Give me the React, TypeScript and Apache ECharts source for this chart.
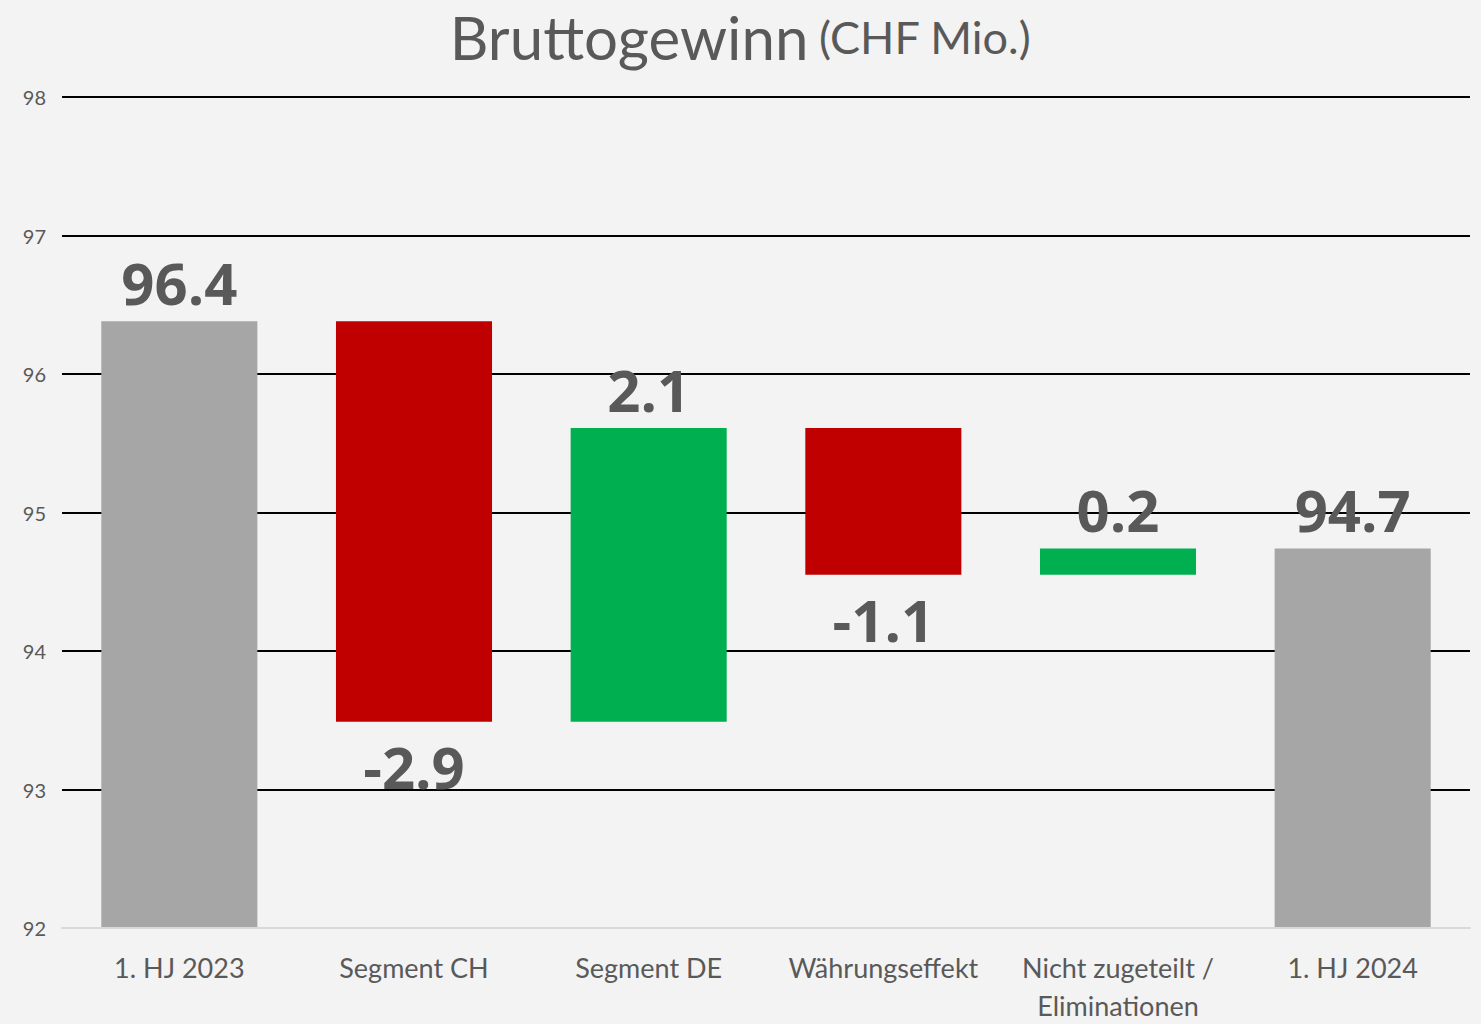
import React, { useEffect, useRef } from "react";
import * as echarts from "echarts";

const categories = ["1. HJ 2023", "Segment CH", "Segment DE", "Währungseffekt", "Nicht zugeteilt /\nEliminationen", "1. HJ 2024"];
const startTotal = 96.38;
const deltas = [-2.89, 2.12, -1.06, 0.19];
const endTotal = 94.74;
const labelTexts = ["96.4", "-2.9", "2.1", "-1.1", "0.2", "94.7"];
const yTicks = [92, 93, 94, 95, 96, 97, 98];

const GRAY = "#a6a6a6";
const RED = "#c00000";
const GREEN = "#00b050";
const TEXT = "#595959";

export default function App() {
  const ref = useRef<HTMLDivElement>(null);
  useEffect(() => {
    if (!ref.current) return;
    const chart = echarts.init(ref.current, undefined, { renderer: "svg" });

    const base: number[] = [];
    const vis: any[] = [];
    base.push(0);
    vis.push({ value: startTotal, itemStyle: { color: GRAY }, label: { position: "top", distance: 10 } });
    let level = startTotal;
    deltas.forEach((d) => {
      const next = level + d;
      const low = Math.min(level, next);
      base.push(low);
      vis.push({
        value: Math.abs(d),
        itemStyle: { color: d < 0 ? RED : GREEN },
        label: d < 0 ? { position: "bottom", distance: 16 } : { position: "top", distance: 10 },
      });
      level = next;
    });
    base.push(0);
    vis.push({ value: endTotal, itemStyle: { color: GRAY }, label: { position: "top", distance: 10 } });

    chart.setOption({
      animation: false,
      backgroundColor: "#f3f3f3",
      title: {
        text: "{a|Bruttogewinn}  {b|(CHF Mio.)}",
        left: "center",
        top: 2,
        textStyle: {
          rich: {
            a: { fontSize: 60, color: TEXT, fontFamily: "Lato", fontWeight: "normal" },
            b: { fontSize: 45, color: TEXT, fontFamily: "Lato", fontWeight: "normal" },
          },
        },
      },
      grid: { left: 62, right: 11, top: 97, bottom: 86, containLabel: false },
      xAxis: {
        type: "category",
        data: categories,
        axisLine: { show: true, lineStyle: { color: "#d9d9d9", width: 2 } },
        axisTick: { show: false },
        axisLabel: { color: TEXT, fontSize: 27, fontFamily: "Lato", margin: 20, lineHeight: 38, interval: 0 },
        z: 10,
      },
      yAxis: {
        type: "value",
        min: yTicks[0],
        max: yTicks[yTicks.length - 1],
        interval: 1,
        axisLine: { show: false },
        axisTick: { show: false },
        axisLabel: { color: TEXT, fontSize: 20, fontFamily: "Lato", margin: 16 },
        splitLine: { lineStyle: { color: "#000000", width: 2 } },
      },
      series: [
        {
          type: "bar",
          stack: "wf",
          data: base,
          itemStyle: { color: "transparent" },
          silent: true,
          barWidth: "66.5%",
        },
        {
          type: "bar",
          stack: "wf",
          data: vis,
          barWidth: "66.5%",
          label: {
            show: true,
            fontSize: 58,
            fontWeight: "bold",
            fontFamily: "Open Sans",
            color: TEXT,
            formatter: (p: any) => labelTexts[p.dataIndex],
          },
        },
      ],
    });
    return () => chart.dispose();
  }, []);
  return <div ref={ref} style={{ position: "absolute", left: 0, top: 0, width: 1481, height: 1024 }} />;
}
